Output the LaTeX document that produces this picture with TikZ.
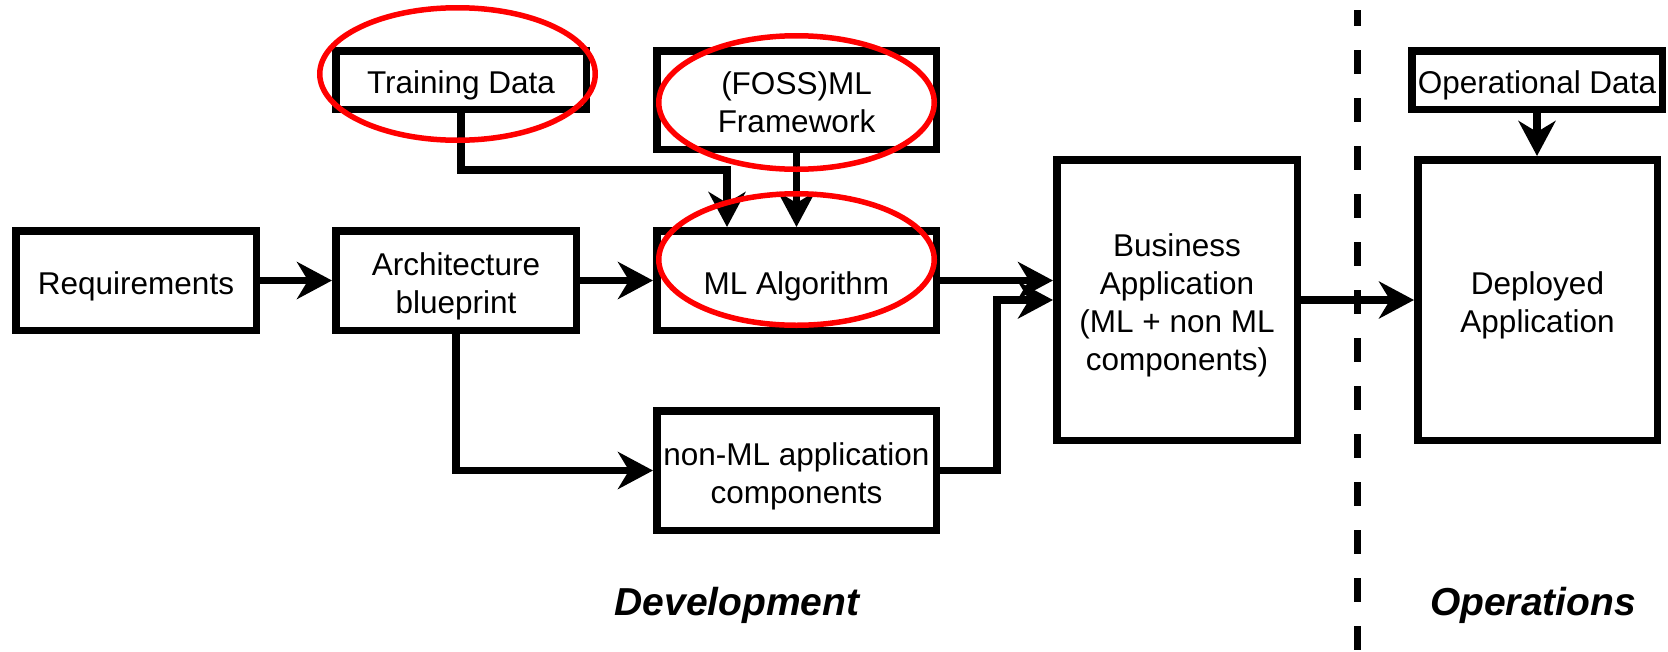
\documentclass[tikz,border=0pt]{standalone}
\usepackage{fontspec}
\setmainfont{Liberation Sans}
\usetikzlibrary{arrows.meta}
\begin{document}
\begin{tikzpicture}[x=1pt,y=-1pt,
  procbox/.style={draw=black, line width=7.5pt, rectangle, inner sep=0pt, align=center,
    font=\fontsize{31.5}{38}\selectfont, text height=27pt, text depth=0pt},
  twolines/.style={text height=65pt, text depth=0pt},
  fourlines/.style={text height=141pt, text depth=0pt},
  conn/.style={line width=7.5pt, line join=miter, -{Stealth[length=35pt,width=37pt,inset=11pt]}},
  ring/.style={draw=red, line width=5.5pt},
  phase/.style={font=\fontsize{39}{46}\selectfont\bfseries\itshape, inner sep=0pt, anchor=base},
  divider/.style={line width=7pt, dash pattern=on 24pt off 24pt, dash phase=8pt}
]
\useasboundingbox (0,0) rectangle (1668,651);

% phase divider
\draw[divider] (1357,10) -- (1357,651);

% boxes
\node[procbox, minimum width=240.5pt, minimum height=99.5pt] (req) at (136,280.5) {Requirements};
\node[procbox, twolines, minimum width=240.5pt, minimum height=99.5pt] (arch) at (456,280.5) {Architecture\\blueprint};
\node[procbox, minimum width=250.5pt, minimum height=58.5pt] (train) at (461,80) {Training Data};
\node[procbox, twolines, minimum width=279.5pt, minimum height=98.5pt] (foss) at (796.5,100) {(FOSS)ML\\Framework};
\node[procbox, minimum width=279.5pt, minimum height=99.5pt] (ml) at (796.5,280.5) {ML Algorithm};
\node[procbox, twolines, minimum width=279.5pt, minimum height=119.5pt] (nonml) at (796.5,470.5) {non-ML application\\components};
\node[procbox, fourlines, minimum width=240.5pt, minimum height=280.5pt] (bus) at (1177,300) {Business\\Application\\(ML + non ML\\components)};
\node[procbox, twolines, minimum width=239.5pt, minimum height=280.5pt] (dep) at (1537.5,300) {Deployed\\Application};
\node[procbox, minimum width=250.5pt, minimum height=58.5pt] (opdata) at (1537,80) {Operational Data};

% connectors
\coordinate (tbend) at (727,170);
\coordinate (nbend) at (997,300);
\draw[conn] (req.east) -- (arch.west);
\draw[conn] (arch.east) -- (ml.west);
\draw[conn] (train.south) |- (tbend) -- (tbend |- ml.north);
\draw[conn] (foss.south) -- (ml.north);
\draw[conn] (arch.south) |- (nonml.west);
\draw[conn] (ml.east) -- (ml.east -| bus.west);
\draw[conn] (nonml.east) -| (nbend) -- (nbend -| bus.west);
\draw[conn] (bus.east) -- (dep.west);
\draw[conn] (opdata.south) -- (opdata.south |- dep.north);

% phase labels
\node[phase] (devlabel) at (737,615) {Development};
\node[phase] (opslabel) at (1533,615) {Operations};

% red highlight rings
\draw[ring] (457.5,74) ellipse [x radius=137.75, y radius=66.25];
\draw[ring] (796.5,102.5) ellipse [x radius=137.75, y radius=66.75];
\draw[ring] (796.5,259.5) ellipse [x radius=137.75, y radius=65.75];
\end{tikzpicture}
\end{document}
